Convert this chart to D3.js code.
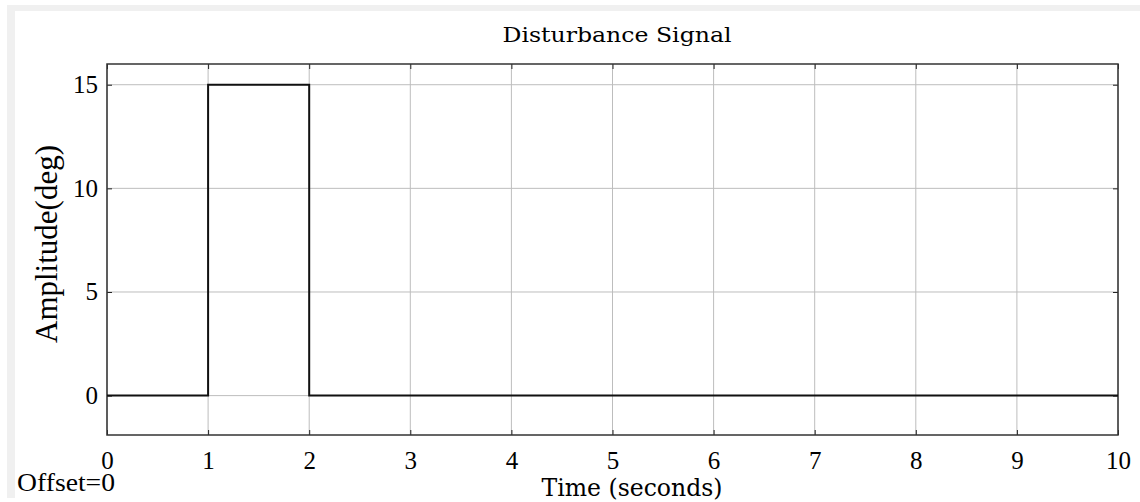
<!DOCTYPE html>
<html>
<head>
    <meta charset="utf-8">
    <script src="https://d3js.org/d3.v7.js"></script>
    <style type="text/css">
        body { margin: 0; background: #fff; }
        .tick text { font: 25px "Liberation Serif", serif; fill: #000; }
        .grid line { stroke: #bdbdbd; stroke-width: 1px; }
        .signal { fill: none; stroke: #111; stroke-width: 2px; }
    </style>
</head>
<body>
<script>
// step signal: 15 deg between t=1 and t=2
var times = [0, 1, 1, 2, 2, 10];
var amps = [0, 0, 15, 15, 0, 0];
var xTicks = [0, 1, 2, 3, 4, 5, 6, 7, 8, 9, 10];
var yTicks = [0, 5, 10, 15];

var W = 1140, H = 502;
var margin = {left: 107, right: 22, top: 64, bottom: 67};
var width = W - margin.left - margin.right,
    height = H - margin.top - margin.bottom;

var svg = d3.select("body").append("svg")
    .attr("width", W).attr("height", H);

// gray frame at top and left
svg.append("rect").attr("x", 7).attr("y", 5).attr("width", W - 7).attr("height", 493).attr("fill", "#f0f0f0");
svg.append("rect").attr("x", 15).attr("y", 11).attr("width", W - 15).attr("height", H - 11).attr("fill", "#fff");

var g = svg.append("g").attr("transform", "translate(" + margin.left + "," + margin.top + ")");

var x = d3.scaleLinear().domain([0, 10]).range([0, width]);
var y = d3.scaleLinear().domain([-1.9, 16]).range([height, 0]);

// grid
g.append("g").attr("class", "grid")
    .selectAll("line").data(xTicks).enter().append("line")
    .attr("x1", d => x(d)).attr("x2", d => x(d))
    .attr("y1", 0).attr("y2", height);
g.append("g").attr("class", "grid")
    .selectAll("line").data(yTicks).enter().append("line")
    .attr("x1", 0).attr("x2", width)
    .attr("y1", d => y(d)).attr("y2", d => y(d));

// axes with inward ticks
var xAxis = d3.axisBottom(x).tickValues(xTicks).tickSize(-5).tickPadding(16).tickFormat(d3.format("d"));
var yAxis = d3.axisLeft(y).tickValues(yTicks).tickSize(-5).tickPadding(9).tickFormat(d3.format("d"));

g.append("g").attr("transform", "translate(0," + height + ")").call(xAxis)
    .call(s => s.select(".domain").remove())
    .selectAll(".tick line").attr("stroke", "#222");
g.append("g").call(yAxis)
    .call(s => s.select(".domain").remove())
    .selectAll(".tick line").attr("stroke", "#222");
g.append("g").call(d3.axisTop(x).tickValues(xTicks).tickSize(-5).tickFormat(""))
    .call(s => s.select(".domain").remove())
    .selectAll(".tick line").attr("stroke", "#222");
g.append("g").attr("transform", "translate(" + width + ",0)")
    .call(d3.axisRight(y).tickValues(yTicks).tickSize(-5).tickFormat(""))
    .call(s => s.select(".domain").remove())
    .selectAll(".tick line").attr("stroke", "#222");

// box
g.append("rect").attr("width", width).attr("height", height)
    .attr("fill", "none").attr("stroke", "#333").attr("stroke-width", 1.5);

// signal
var line = d3.line().x((d, i) => x(times[i])).y(d => y(d));
g.append("path").attr("class", "signal").attr("d", line(amps));

// labels
svg.append("text").attr("x", 617).attr("y", 42)
    .attr("text-anchor", "middle")
    .attr("textLength", 229).attr("lengthAdjust", "spacingAndGlyphs")
    .style("font", "20px 'DejaVu Serif', serif")
    .text("Disturbance Signal");
svg.append("text").attr("x", 632).attr("y", 496)
    .attr("text-anchor", "middle")
    .attr("textLength", 181).attr("lengthAdjust", "spacingAndGlyphs")
    .style("font", "25px 'DejaVu Serif', serif")
    .text("Time (seconds)");
svg.append("text").attr("x", 17).attr("y", 491)
    .attr("textLength", 98).attr("lengthAdjust", "spacingAndGlyphs")
    .style("font", "25px 'Liberation Serif', serif")
    .text("Offset=0");
svg.append("text")
    .attr("transform", "translate(57,244) rotate(-90)")
    .attr("text-anchor", "middle")
    .style("font", "31px 'Liberation Serif', serif")
    .text("Amplitude(deg)");
</script>
</body>
</html>
